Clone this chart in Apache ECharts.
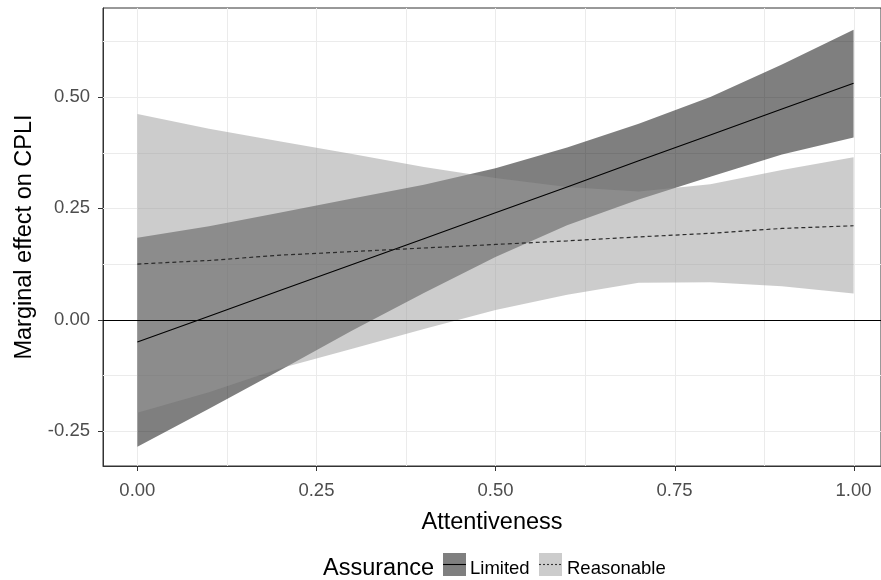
<!DOCTYPE html>
<html>
<head>
<meta charset="utf-8">
<script src="https://cdn.jsdelivr.net/npm/echarts@6/dist/echarts.min.js"></script>
<style>html,body{margin:0;padding:0;background:#fff}#c{width:881px;height:580px}</style>
</head>
<body>
<div id="c"></div>
<script>
// Attentiveness (x) positions where values were read
const attentiveness = [0, 0.1, 0.2, 0.3, 0.4, 0.5, 0.6, 0.7, 0.8, 0.9, 1.0];
// Limited assurance: marginal effect and confidence band
const limitedMid   = [-0.050, 0.008, 0.066, 0.124, 0.182, 0.240, 0.298, 0.357, 0.415, 0.473, 0.531];
const limitedUpper = [0.184, 0.210, 0.241, 0.272, 0.303, 0.340, 0.387, 0.440, 0.500, 0.573, 0.651];
const limitedLower = [-0.285, -0.200, -0.113, -0.024, 0.060, 0.141, 0.212, 0.270, 0.321, 0.371, 0.409];
// Reasonable assurance: marginal effect and confidence band
const reasonableMid   = [0.125, 0.133, 0.145, 0.153, 0.161, 0.169, 0.177, 0.186, 0.194, 0.205, 0.211];
const reasonableUpper = [0.462, 0.429, 0.400, 0.372, 0.343, 0.318, 0.298, 0.288, 0.304, 0.336, 0.365];
const reasonableLower = [-0.209, -0.163, -0.109, -0.065, -0.021, 0.022, 0.056, 0.083, 0.084, 0.075, 0.059];
// Axis ticks and grid lines
const xTicks = [0, 0.25, 0.5, 0.75, 1.0];
const yTicks = [-0.25, 0, 0.25, 0.5];
const xGrid = [0, 0.125, 0.25, 0.375, 0.5, 0.625, 0.75, 0.875, 1.0];
const yGrid = [-0.25, -0.125, 0, 0.125, 0.25, 0.375, 0.5, 0.625];
const refLine = [0];
const legendTitle = 'Assurance';
const groups = ['Limited', 'Reasonable'];

const FONT = '"Liberation Sans", Arial, sans-serif';

function bandSeries(name, upper, lower, fill, z) {
  return {
    type: 'custom', name: name, z: z, silent: true,
    data: [[attentiveness[0], lower[0]]],
    renderItem: function (params, api) {
      const pts = [];
      for (let i = 0; i < attentiveness.length; i++) pts.push(api.coord([attentiveness[i], upper[i]]));
      for (let i = attentiveness.length - 1; i >= 0; i--) pts.push(api.coord([attentiveness[i], lower[i]]));
      return { type: 'polygon', shape: { points: pts }, style: { fill: fill } };
    }
  };
}

const chart = echarts.init(document.getElementById('c'), null, { renderer: 'canvas' });
chart.setOption({
  animation: false,
  backgroundColor: '#ffffff',
  textStyle: { fontFamily: FONT },
  grid: { left: 103, right: -2, top: 8, bottom: 114, show: true, borderColor: '#333333', borderWidth: 1, backgroundColor: '#ffffff' },
  xAxis: {
    type: 'value', min: -0.048, max: 1.0383,
    name: 'Attentiveness', nameLocation: 'middle', nameGap: 45,
    nameTextStyle: { fontSize: 23.5, color: '#000', fontFamily: FONT },
    axisLine: { show: true, onZero: false, lineStyle: { color: '#333333', width: 1 } },
    axisTick: { show: false },
    axisLabel: { customValues: xTicks, formatter: v => v.toFixed(2), fontSize: 18.5, color: '#4d4d4d', margin: 15, fontFamily: FONT },
    splitLine: { show: false }
  },
  yAxis: {
    type: 'value', min: -0.3285, max: 0.700,
    name: 'Marginal effect on CPLI', nameLocation: 'middle', nameGap: 64, nameRotate: 90,
    nameTextStyle: { fontSize: 23.5, color: '#000', fontFamily: FONT },
    axisLine: { show: true, onZero: false, lineStyle: { color: '#333333', width: 1 } },
    axisTick: { show: false },
    axisLabel: { customValues: yTicks, formatter: v => v.toFixed(2), fontSize: 18.5, color: '#4d4d4d', margin: 13, fontFamily: FONT },
    splitLine: { show: false }
  },
  series: [
    {
      type: 'custom', name: 'grid', z: 1, silent: true, clip: false,
      data: [[0, 0]],
      renderItem: function (params, api) {
        const cs = params.coordSys;
        const children = [];
        xGrid.forEach(function (v) {
          const x = Math.round(api.coord([v, 0])[0]) + 0.5;
          children.push({ type: 'line', shape: { x1: x, y1: cs.y, x2: x, y2: cs.y + cs.height }, style: { stroke: '#ebebeb', lineWidth: 1 } });
        });
        yGrid.forEach(function (v) {
          const y = Math.round(api.coord([0, v])[1]) + 0.5;
          children.push({ type: 'line', shape: { x1: cs.x, y1: y, x2: cs.x + cs.width, y2: y }, style: { stroke: '#ebebeb', lineWidth: 1 } });
        });
        // axis tick marks outside the panel
        xTicks.forEach(function (v) {
          const x = Math.round(api.coord([v, 0])[0]) + 0.5;
          const yb = cs.y + cs.height;
          children.push({ type: 'line', shape: { x1: x, y1: yb, x2: x, y2: yb + 5 }, style: { stroke: '#333333', lineWidth: 1 } });
        });
        yTicks.forEach(function (v) {
          const y = Math.round(api.coord([0, v])[1]) + 0.5;
          children.push({ type: 'line', shape: { x1: cs.x - 5, y1: y, x2: cs.x, y2: y }, style: { stroke: '#333333', lineWidth: 1 } });
        });
        return { type: 'group', children: children };
      }
    },
    bandSeries('Limited band', limitedUpper, limitedLower, 'rgba(0,0,0,0.5)', 2),
    bandSeries('Reasonable band', reasonableUpper, reasonableLower, 'rgba(153,153,153,0.5)', 3),
    {
      type: 'custom', name: 'zero', z: 4, silent: true,
      data: refLine.map(v => [0, v]),
      renderItem: function (params, api) {
        const cs = params.coordSys;
        const y = Math.round(api.coord([0, api.value(1)])[1]) + 0.5;
        return { type: 'line', shape: { x1: cs.x, y1: y, x2: cs.x + cs.width, y2: y }, style: { stroke: '#000000', lineWidth: 1.1 } };
      }
    },
    {
      type: 'line', name: groups[0], z: 5, silent: true, showSymbol: false,
      data: attentiveness.map((x, i) => [x, limitedMid[i]]),
      lineStyle: { color: '#000000', width: 1.1, type: 'solid' }
    },
    {
      type: 'line', name: groups[1], z: 5, silent: true, showSymbol: false,
      data: attentiveness.map((x, i) => [x, reasonableMid[i]]),
      lineStyle: { color: '#2b2b2b', width: 1.2, type: [4, 3] }
    }
  ],
  graphic: [
    { type: 'text', left: 323, top: 557, style: { text: legendTitle, fontSize: 23.5, fill: '#000', fontFamily: FONT } },
    { type: 'rect', shape: { x: 443, y: 553, width: 23, height: 23 }, style: { fill: 'rgba(0,0,0,0.5)' } },
    { type: 'line', shape: { x1: 443, y1: 564.5, x2: 466, y2: 564.5 }, style: { stroke: '#000', lineWidth: 1.1 } },
    { type: 'text', left: 470, top: 559, style: { text: groups[0], fontSize: 18.5, fill: '#000', fontFamily: FONT } },
    { type: 'rect', shape: { x: 539, y: 553, width: 23, height: 23 }, style: { fill: 'rgba(153,153,153,0.5)' } },
    { type: 'line', shape: { x1: 539, y1: 564.5, x2: 562, y2: 564.5 }, style: { stroke: '#333', lineWidth: 1.1, lineDash: [2, 2] } },
    { type: 'text', left: 567, top: 559, style: { text: groups[1], fontSize: 18.5, fill: '#000', fontFamily: FONT } }
  ]
});
</script>
</body>
</html>
